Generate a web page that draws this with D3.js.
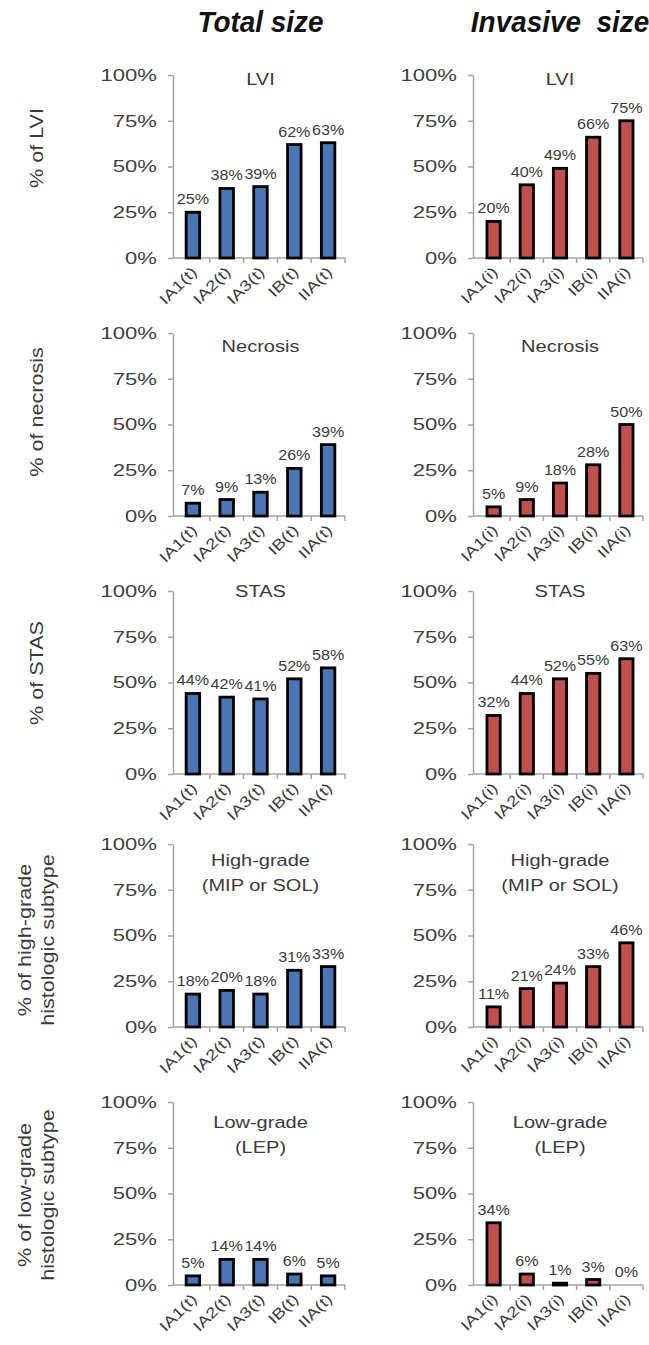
<!DOCTYPE html>
<html>
<head>
<meta charset="utf-8">
<script src="https://cdn.jsdelivr.net/npm/d3@7/dist/d3.min.js"></script>
<style>
  html, body { margin: 0; padding: 0; background: #fff; }
  svg { display: block; font-family: "Liberation Sans", Arial, sans-serif; }
</style>
</head>
<body>
<svg id="chart" width="649" height="1345"></svg>
<script>
// Stage categories for each column
const totalCats = ["IA1(t)", "IA2(t)", "IA3(t)", "IB(t)", "IIA(t)"];
const invasiveCats = ["IA1(i)", "IA2(i)", "IA3(i)", "IB(i)", "IIA(i)"];

// Column headers
const columnHeaders = ["Total size", "Invasive  size"];

// Panel titles per row
const panelTitles = [
  ["LVI"],
  ["Necrosis"],
  ["STAS"],
  ["High-grade", "(MIP or SOL)"],
  ["Low-grade", "(LEP)"]
];

// Y-axis titles per row
const rowTitles = [
  ["% of LVI"],
  ["% of necrosis"],
  ["% of STAS"],
  ["% of high-grade", "histologic subtype"],
  ["% of low-grade", "histologic subtype"]
];

// Y ticks (percent)
const yTicks = [0, 25, 50, 75, 100];

// Percent values, total size
const totalLVI = [25, 38, 39, 62, 63];
const totalNecrosis = [7, 9, 13, 26, 39];
const totalSTAS = [44, 42, 41, 52, 58];
const totalHighGrade = [18, 20, 18, 31, 33];
const totalLowGrade = [5, 14, 14, 6, 5];

// Percent values, invasive size
const invasiveLVI = [20, 40, 49, 66, 75];
const invasiveNecrosis = [5, 9, 18, 28, 50];
const invasiveSTAS = [32, 44, 52, 55, 63];
const invasiveHighGrade = [11, 21, 24, 33, 46];
const invasiveLowGrade = [34, 6, 1, 3, 0];

const totalRows = [totalLVI, totalNecrosis, totalSTAS, totalHighGrade, totalLowGrade];
const invasiveRows = [invasiveLVI, invasiveNecrosis, invasiveSTAS, invasiveHighGrade, invasiveLowGrade];

// ---- layout ----
const rowTop = [75, 333, 591, 844, 1102];
const plotH = 183;
const titleCenterOffset = [4, 13, 0, 16, 20];
const rowTitleCenterOffset = [73, 79, 82, 96, 93];
const columns = [
  { axisX: 173, range: [176, 345], cats: totalCats, rows: totalRows, fill: "#4a76b5", header: columnHeaders[0] },
  { axisX: 473, range: [477, 643], cats: invasiveCats, rows: invasiveRows, fill: "#c0504d", header: columnHeaders[1] }
];
const axisColor = "#a3a3a3";
const textColor = "#3a3a3a";

const svg = d3.select("#chart");

// Column headers
columns.forEach(col => {
  const cx = (col.range[0] + col.range[1]) / 2;
  svg.append("text")
    .attr("transform", `translate(${cx},32) scale(0.93,1)`)
    .attr("text-anchor", "middle")
    .attr("font-size", 30)
    .attr("font-weight", "bold")
    .attr("font-style", "italic")
    .attr("fill", "#111")
    .style("white-space", "pre")
    .text(col.header);
});

// Row titles on the left
rowTitles.forEach((lines, r) => {
  const cy = rowTop[r] + rowTitleCenterOffset[r];
  const xs = lines.length === 1 ? [43] : [31, 54];
  lines.forEach((line, i) => {
    svg.append("text")
      .attr("transform", `translate(${xs[i]},${cy}) rotate(-90) scale(1.2,1)`)
      .attr("text-anchor", "middle")
      .attr("font-size", 18)
      .attr("fill", textColor)
      .text(line);
  });
});

columns.forEach(col => {
  col.rows.forEach((values, r) => {
    const top = rowTop[r];
    const y = d3.scaleLinear().domain([0, 100]).range([top + plotH, top]);
    const x = d3.scaleBand().domain(col.cats).range(col.range).padding(0);
    const barW = x.bandwidth() * 0.4;
    const g = svg.append("g");

    // Y axis
    const yAxis = g.append("g")
      .attr("transform", `translate(${col.axisX},0)`)
      .call(d3.axisLeft(y).tickValues(yTicks).tickSize(5).tickSizeOuter(0)
        .tickPadding(11).tickFormat(d => d + "%"));
    yAxis.select(".domain").attr("stroke", axisColor).attr("stroke-width", 1.5);
    yAxis.selectAll(".tick line").attr("stroke", axisColor).attr("stroke-width", 1.5);
    yAxis.selectAll(".tick text")
      .attr("x", -16 / 1.3)
      .attr("transform", "scale(1.3,1)")
      .attr("font-size", 17)
      .attr("font-family", "Liberation Sans, Arial, sans-serif")
      .attr("fill", "#404040");

    // X axis baseline and boundary ticks
    const baseY = y(0);
    g.append("line")
      .attr("x1", col.axisX).attr("x2", col.range[1])
      .attr("y1", baseY).attr("y2", baseY)
      .attr("stroke", axisColor).attr("stroke-width", 1.5);
    const bounds = col.cats.map(c => x(c)).slice(1).concat([col.range[1]]);
    g.selectAll("line.bound").data(bounds).join("line")
      .attr("class", "bound")
      .attr("x1", d => d).attr("x2", d => d)
      .attr("y1", baseY).attr("y2", baseY + 5)
      .attr("stroke", axisColor).attr("stroke-width", 1.5);

    // Category labels
    const xAxis = g.append("g")
      .attr("transform", `translate(0,${baseY})`)
      .call(d3.axisBottom(x).tickSize(0).tickPadding(0));
    xAxis.select(".domain").remove();
    xAxis.selectAll(".tick text")
      .attr("x", 0).attr("y", 0).attr("dy", 0)
      .attr("text-anchor", "end")
      .attr("transform", "translate(5,15) rotate(-45) scale(1.25,1)")
      .attr("font-size", 15)
      .attr("font-family", "Liberation Sans, Arial, sans-serif")
      .attr("fill", textColor);

    // Bars
    const data = col.cats.map((c, i) => ({ c, v: values[i] }));
    g.selectAll("rect.bar").data(data).join("rect")
      .attr("class", "bar")
      .attr("x", d => x(d.c) + (x.bandwidth() - barW) / 2)
      .attr("y", d => y(d.v))
      .attr("width", barW)
      .attr("height", d => y(0) - y(d.v))
      .attr("fill", col.fill)
      .attr("stroke", "#000")
      .attr("stroke-width", 2.8);

    // Value labels
    g.selectAll("text.val").data(data).join("text")
      .attr("class", "val")
      .attr("transform", d => `translate(${x(d.c) + x.bandwidth() / 2},${y(d.v) - 8}) scale(1.15,1)`)
      .attr("text-anchor", "middle")
      .attr("font-size", 14)
      .attr("fill", textColor)
      .text(d => d.v + "%");

    // Panel title
    const cx = (col.range[0] + col.range[1]) / 2;
    const lines = panelTitles[r];
    lines.forEach((line, i) => {
      g.append("text")
        .attr("transform", `translate(${cx},${top + titleCenterOffset[r] + 6 + i * 25}) scale(1.25,1)`)
        .attr("text-anchor", "middle")
        .attr("font-size", 16)
        .attr("fill", textColor)
        .text(line);
    });
  });
});
</script>
</body>
</html>
